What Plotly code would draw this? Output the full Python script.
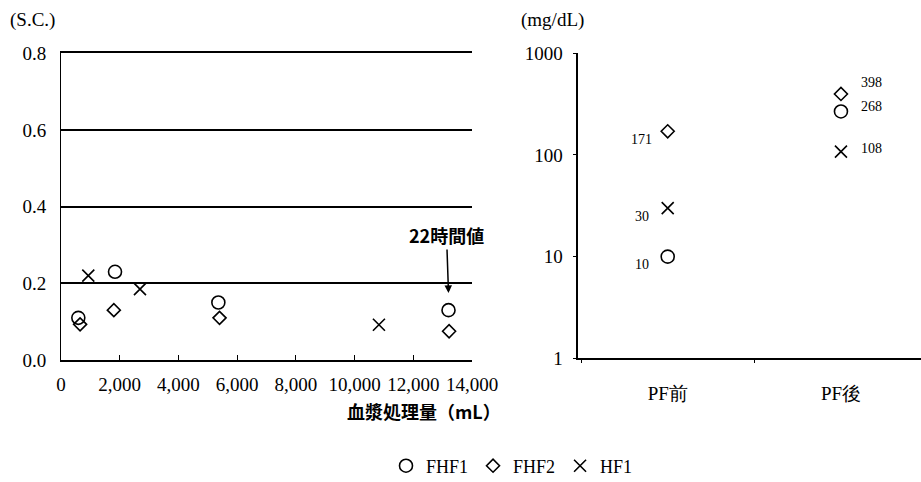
import numpy as np
import plotly.graph_objects as go

# ---- data: left panel (S.C. vs plasma volume) ----
fhf1_x = [590, 1840, 5360, 13200]
fhf1_y = [0.11, 0.23, 0.15, 0.13]
fhf2_x = [650, 1800, 5400, 13220]
fhf2_y = [0.093, 0.13, 0.11, 0.075]
hf1_x = [930, 2690, 10830]
hf1_y = [0.22, 0.185, 0.092]

# ---- data: right panel (mg/dL, before/after PF) ----
categories = ["PF前", "PF後"]
fhf1_mg = [10, 268]
fhf2_mg = [171, 398]
hf1_mg = [30, 108]

series_names = ["FHF1", "FHF2", "HF1"]

left_ticks = [0, 2000, 4000, 6000, 8000, 10000, 12000, 14000]
left_yticks = [0.0, 0.2, 0.4, 0.6, 0.8]
right_yticks = [1, 10, 100, 1000]

SERIF = "Liberation Serif, Times New Roman, serif"
GOTH = "Noto Sans CJK JP"
BLACK = "#000000"

symbols = {"FHF1": "circle-open", "FHF2": "diamond-open", "HF1": "x-thin-open"}
sizes = {"FHF1": 13, "FHF2": 10, "HF1": 12}

fig = go.Figure()

left = {"FHF1": (fhf1_x, fhf1_y), "FHF2": (fhf2_x, fhf2_y), "HF1": (hf1_x, hf1_y)}
right = {"FHF1": fhf1_mg, "FHF2": fhf2_mg, "HF1": hf1_mg}

for name in series_names:
    xs, ys = left[name]
    fig.add_trace(go.Scatter(
        x=xs, y=ys, mode="markers", name=name, legendgroup=name,
        marker=dict(symbol=symbols[name], size=sizes[name], color=BLACK,
                    line=dict(color=BLACK, width=1.6)),
        xaxis="x", yaxis="y", showlegend=True, cliponaxis=False,
    ))
for name in series_names:
    fig.add_trace(go.Scatter(
        x=categories, y=right[name], mode="markers", name=name, legendgroup=name,
        marker=dict(symbol=symbols[name], size=sizes[name], color=BLACK,
                    line=dict(color=BLACK, width=1.6)),
        xaxis="x2", yaxis="y2", showlegend=False, cliponaxis=False,
    ))

annotations = []
# value labels on the right panel
yshift_after = {"FHF1": 5, "FHF2": 11, "HF1": 3}
for name in series_names:
    vals = right[name]
    annotations.append(dict(
        x=categories[0], y=np.log10(vals[0]), xref="x2", yref="y2",
        text=str(vals[0]), showarrow=False, xshift=-26, yshift=-8,
        font=dict(family=SERIF, size=14, color=BLACK)))
    annotations.append(dict(
        x=categories[1], y=np.log10(vals[1]), xref="x2", yref="y2",
        text=str(vals[1]), showarrow=False, xshift=31, yshift=yshift_after[name],
        font=dict(family=SERIF, size=14, color=BLACK)))

# 22-hour value arrow
annotations.append(dict(
    x=fhf1_x[-1], y=fhf1_y[-1] + 0.045, xref="x", yref="y",
    text="<b>22時間値</b>", showarrow=True, ax=-2, ay=-58,
    arrowhead=2, arrowsize=1, arrowwidth=1.5, arrowcolor=BLACK,
    font=dict(family=GOTH, size=18, color=BLACK)))

# axis unit labels
annotations.append(dict(x=8 / 921, y=1 - 20 / 482, xref="paper", yref="paper",
                        xanchor="left", yanchor="middle", text="(S.C.)", showarrow=False,
                        font=dict(family=SERIF, size=19, color=BLACK)))
annotations.append(dict(x=519 / 921, y=1 - 20 / 482, xref="paper", yref="paper",
                        xanchor="left", yanchor="middle", text="(mg/dL)", showarrow=False,
                        font=dict(family=SERIF, size=19, color=BLACK)))
annotations.append(dict(x=503 / 921, y=1 - 411 / 482, xref="paper", yref="paper",
                        xanchor="right", yanchor="middle", text="<b>血漿処理量（mL）</b>",
                        showarrow=False, font=dict(family=GOTH, size=18, color=BLACK)))

fig.update_layout(
    width=921, height=482,
    margin=dict(l=0, r=0, t=0, b=0, autoexpand=False),
    paper_bgcolor="white", plot_bgcolor="white",
    font=dict(family=SERIF, size=19, color=BLACK),
    showlegend=True,
    legend=dict(orientation="h", x=512 / 921, xanchor="center", y=1 - 466 / 482, yanchor="middle",
                font=dict(family=SERIF, size=18, color=BLACK), itemwidth=30,
                bgcolor="rgba(0,0,0,0)"),
    annotations=annotations,
    xaxis=dict(domain=[61 / 921, 472 / 921], range=[0, 14000], tickvals=left_ticks,
               tickformat=",", showgrid=False, zeroline=False, automargin=False,
               showline=True, linecolor=BLACK, linewidth=1.5, mirror=True,
               ticks="inside", ticklen=5, tickcolor=BLACK, tickwidth=1.2,
               ticklabelstandoff=6, anchor="y",
               tickfont=dict(family=SERIF, size=19, color=BLACK)),
    yaxis=dict(domain=[1 - 360 / 482, 1 - 53.3 / 482], range=[0, 0.8], tickvals=left_yticks,
               tickformat=".1f", showgrid=True, gridcolor=BLACK, gridwidth=1.5,
               zeroline=False, showline=True, linecolor=BLACK, linewidth=1, automargin=False,
               ticks="", ticklabelstandoff=10, anchor="x",
               tickfont=dict(family=SERIF, size=19, color=BLACK)),
    xaxis2=dict(domain=[578.3 / 921, 1.0], type="category", range=[-0.516, 1.462],
                showgrid=False, zeroline=False, showline=True, linecolor=BLACK, linewidth=1.5,
                ticks="outside", tickson="boundaries", ticklen=3, tickcolor=BLACK, tickwidth=1.2,
                ticklabelstandoff=17, anchor="y2", automargin=False,
                tickfont=dict(family=SERIF, size=19, color=BLACK)),
    yaxis2=dict(domain=[1 - 358.3 / 482, 1 - 53.3 / 482], type="log", range=[0, 3],
                tickvals=right_yticks, ticktext=[str(v) for v in right_yticks],
                showgrid=False, zeroline=False, showline=True, linecolor=BLACK, linewidth=1.5,
                ticks="outside", ticklen=4, tickcolor=BLACK, ticklabelstandoff=6, anchor="x2",
                automargin=False,
                tickfont=dict(family=SERIF, size=19, color=BLACK)),
)

fig.write_html("out.html")
